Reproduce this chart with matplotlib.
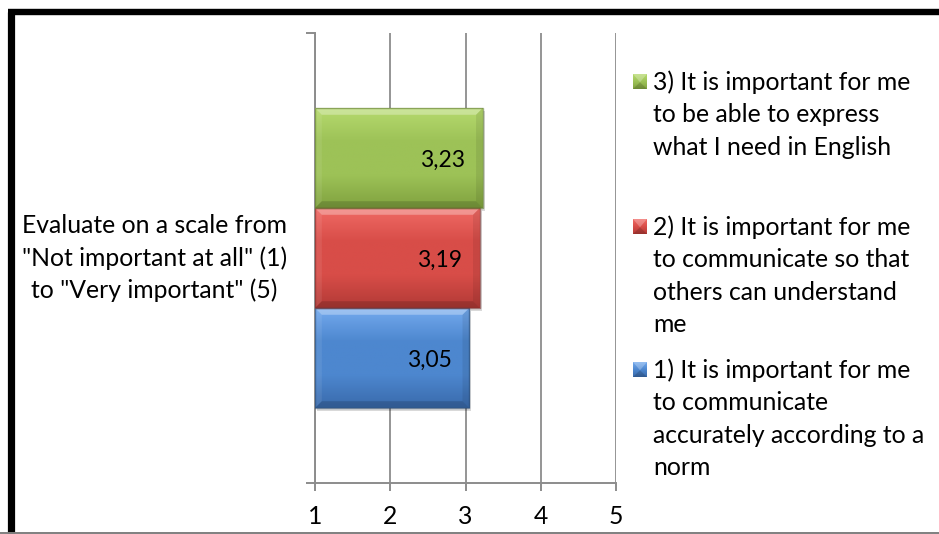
import numpy as np
import matplotlib
matplotlib.use("Agg")
import matplotlib.pyplot as plt
from matplotlib.patches import Rectangle, Polygon
from matplotlib.lines import Line2D
from matplotlib.colors import LinearSegmentedColormap
from matplotlib.transforms import ScaledTranslation

# ---- data ----
category = 'Evaluate on a scale from\n"Not important at all" (1)\nto "Very important" (5)'
series_names = [
    "1) It is important for me\nto communicate\naccurately according to a\nnorm",
    "2) It is important for me\nto communicate so that\nothers can understand\nme",
    "3) It is important for me\nto be able to express\nwhat I need in English",
]
values = [3.05, 3.19, 3.23]
x_ticks = [1, 2, 3, 4, 5]

# ---- styling ----
base_colors = ["#4d87cf", "#d84d48", "#9dc257"]
top_colors = ["#74aaee", "#f06a65", "#b6da6e"]
bot_colors = ["#396aab", "#b23a36", "#80a23f"]
edge_colors = ["#2b4a70", "#7a2c2a", "#5f7a2e"]

FONT = ["Lato", "DejaVu Sans"]
plt.rcParams["font.family"] = FONT
FS = 17.8

W, H, DPI = 939, 534, 100
fig = plt.figure(figsize=(W / DPI, H / DPI), dpi=DPI)
fig.patch.set_facecolor("white")

def px_x(x):
    return x / W

def px_y(y):
    return 1 - y / H

ax_l, ax_r, ax_t, ax_b = 315, 616, 33, 483
ax = fig.add_axes([px_x(ax_l), px_y(ax_b), (ax_r - ax_l) / W, (ax_b - ax_t) / H])
ax.set_xlim(1, 5)
ax.set_ylim(-0.5, 0.5)

grid_col = "#8c8c8c"
for s in ["top", "right"]:
    ax.spines[s].set_visible(False)
ax.spines["left"].set_color(grid_col)
ax.spines["bottom"].set_color(grid_col)
ax.spines["left"].set_linewidth(1.4)
ax.spines["bottom"].set_linewidth(1.4)
ax.set_xticks(x_ticks)
ax.set_xticklabels([str(t) for t in x_ticks])
ax.xaxis.grid(True, color=grid_col, linewidth=1.3)
ax.set_axisbelow(True)
ax.tick_params(axis="x", direction="out", length=6, width=1.4, color=grid_col,
               labelsize=FS, pad=10, labelcolor="black")
ax.set_yticks([0])
ax.set_yticklabels([category], multialignment="center", linespacing=1.45)
ax.set_yticks([-0.5, 0.5], minor=True)
ax.tick_params(axis="y", which="major", length=0, pad=20, labelsize=FS)
ax.tick_params(axis="y", which="minor", length=6.5, width=1.4, color=grid_col)
for lab in ax.get_yticklabels():
    lab.set_transform(lab.get_transform() + ScaledTranslation(0, 6 / DPI, fig.dpi_scale_trans))

n = len(values)
bar_h = (2 / 3) / n
offsets = [(i - (n - 1) / 2) * bar_h for i in range(n)]

bars = ax.barh(offsets, [v - 1 for v in values], left=1, height=bar_h,
               color=base_colors, zorder=3, linewidth=0)

for i, (b, v) in enumerate(zip(bars, values)):
    x0, y0 = b.get_x(), b.get_y()
    w, h = b.get_width(), b.get_height()
    sh = Rectangle((x0 + 0.025, y0 - 0.006), w, h, facecolor="#000000", alpha=0.15,
                   zorder=2, linewidth=0)
    ax.add_patch(sh)
    cmap = LinearSegmentedColormap.from_list(
        "g%d" % i, [bot_colors[i], base_colors[i], base_colors[i], top_colors[i]])
    grad = np.linspace(0, 1, 256).reshape(-1, 1)
    im = ax.imshow(grad, extent=[x0, x0 + w, y0, y0 + h], origin="lower",
                   aspect="auto", cmap=cmap, zorder=3.5)
    im.set_clip_path(b)
    bx = 0.09
    by = bx * (301 / 4) / 450
    top = Polygon([(x0, y0 + h), (x0 + w, y0 + h), (x0 + w - bx, y0 + h - by),
                   (x0 + bx, y0 + h - by)], closed=True, facecolor="white",
                  alpha=0.30, linewidth=0, zorder=4)
    bot = Polygon([(x0, y0), (x0 + w, y0), (x0 + w - bx, y0 + by),
                   (x0 + bx, y0 + by)], closed=True, facecolor="black",
                  alpha=0.15, linewidth=0, zorder=4)
    right = Polygon([(x0 + w, y0), (x0 + w, y0 + h), (x0 + w - bx, y0 + h - by),
                     (x0 + w - bx, y0 + by)], closed=True, facecolor="black",
                    alpha=0.08, linewidth=0, zorder=4)
    left = Polygon([(x0, y0), (x0, y0 + h), (x0 + bx, y0 + h - by),
                    (x0 + bx, y0 + by)], closed=True, facecolor="white",
                   alpha=0.08, linewidth=0, zorder=4)
    for p in (top, bot, right, left):
        ax.add_patch(p)
    edge = Rectangle((x0, y0), w, h, facecolor="none", edgecolor=edge_colors[i],
                     linewidth=1.0, alpha=0.6, zorder=4.5)
    ax.add_patch(edge)
    ax.annotate(f"{v:.2f}".replace(".", ","), xy=(x0 + w, y0 + h / 2),
                xytext=(-12.5, -1.5), textcoords="offset points", ha="right",
                va="center", fontsize=16.5, color="black", zorder=5)

# ---- legend (manual, Excel-like even slots) ----
legend_first_line = [370, 227, 82]
for i in range(n):
    yc = legend_first_line[i]
    mx0, mx1 = 633, 647
    my0, my1 = yc - 8, yc + 7
    ax_leg = fig.add_axes([px_x(mx0), px_y(my1), (mx1 - mx0) / W, (my1 - my0) / H])
    ax_leg.axis("off")
    ax_leg.set_xlim(0, 1)
    ax_leg.set_ylim(0, 1)
    cmap = LinearSegmentedColormap.from_list(
        "l%d" % i, [bot_colors[i], base_colors[i], top_colors[i]])
    ax_leg.imshow(np.linspace(0, 1, 64).reshape(-1, 1), extent=[0, 1, 0, 1],
                  origin="lower", aspect="auto", cmap=cmap)
    ax_leg.add_patch(Polygon([(0, 1), (1, 1), (0.5, 0.45)], closed=True,
                             facecolor="white", alpha=0.25, linewidth=0))
    ax_leg.add_patch(Polygon([(0, 0), (1, 0), (0.5, 0.45)], closed=True,
                             facecolor="black", alpha=0.15, linewidth=0))
    fig.text(px_x(653), px_y(yc - 12), series_names[i], ha="left", va="top",
             fontsize=FS, linespacing=1.5, color="black")

# ---- border ----
fig.add_artist(Line2D([px_x(10.5), px_x(10.5)], [px_y(12), px_y(540)],
                      color="black", linewidth=5.2, solid_capstyle="butt"))
fig.add_artist(Line2D([px_x(7.9), px_x(945)], [px_y(12), px_y(12)],
                      color="black", linewidth=4.6, solid_capstyle="butt"))
fig.add_artist(Line2D([px_x(0), px_x(939)], [px_y(532.5), px_y(532.5)],
                      color="#7f7f7f", linewidth=1.4))

fig.savefig("out.png", dpi=DPI)
